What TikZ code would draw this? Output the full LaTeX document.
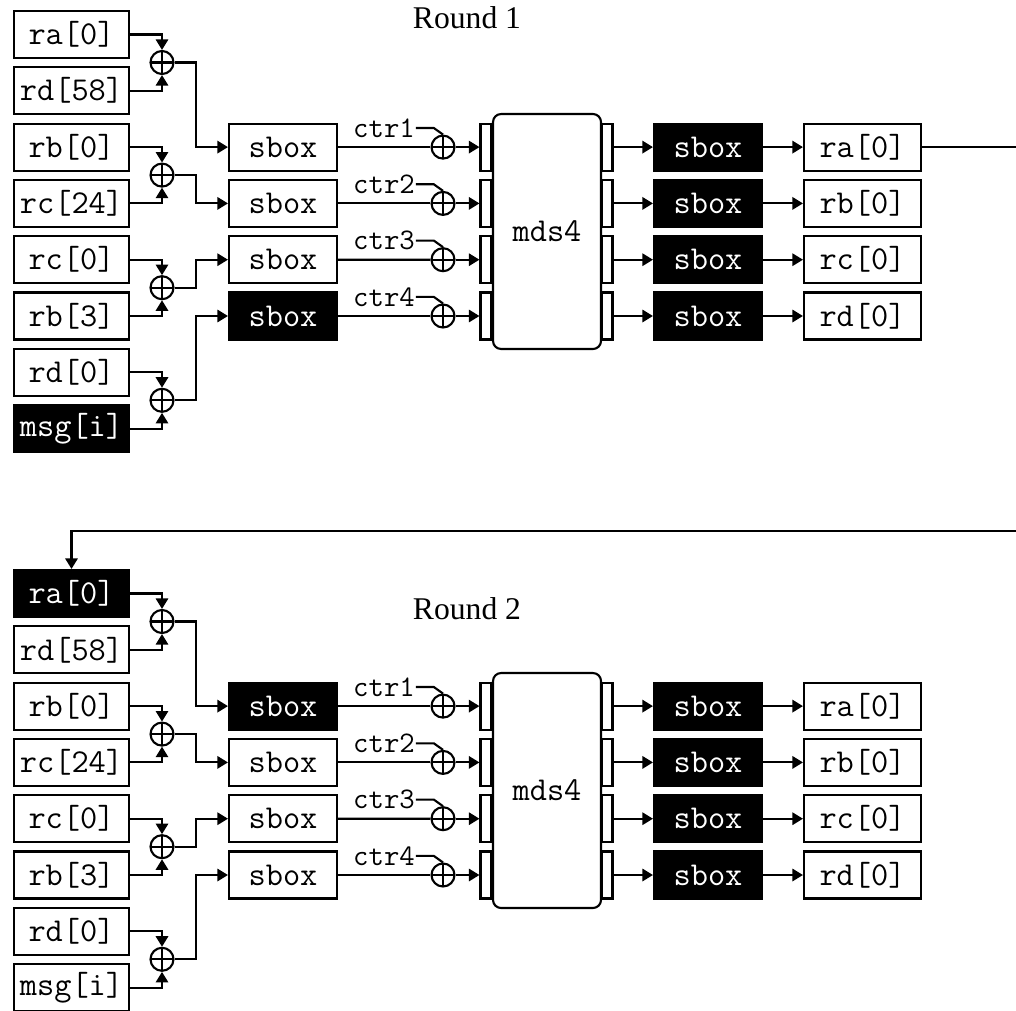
\documentclass[tikz,border=0pt]{standalone}
\usepackage{fontspec}
\setmainfont{Liberation Serif}
\usetikzlibrary{arrows.meta,calc}
\tikzset{
  every picture/.style={line width=1.2pt},
  sreg/.style={draw, inner sep=0pt, minimum width=2.30cm, minimum height=0.94cm,
               font=\ttfamily\fontsize{19}{21}\selectfont},
  ssbox/.style={sreg, minimum width=2.16cm},
  sxor/.style={circle, draw, fill=white, inner sep=0pt, minimum size=0.46cm,
               path picture={\draw (path picture bounding box.north) -- (path picture bounding box.south)
                                   (path picture bounding box.west) -- (path picture bounding box.east);}},
  sside/.style={draw, inner sep=0pt, minimum width=0.22cm, minimum height=0.94cm},
  smds/.style={draw, fill=white, rounded corners=0.16cm, inner sep=0pt,
               minimum width=2.16cm, minimum height=4.70cm,
               font=\ttfamily\fontsize{19}{21}\selectfont},
  sctr/.style={inner sep=0pt, font=\ttfamily\fontsize{17}{19}\selectfont},
  stitle/.style={font=\fontsize{18}{20}\selectfont},
  sarr/.style={-{Triangle[length=6pt,width=7pt]}},
}
\begin{document}
\begin{tikzpicture}[x=0.02cm, y=-0.02cm]
  \useasboundingbox (0,0) rectangle (1016,1010);
  \foreach \r/\dy/\ty/\cA/\tA/\cB/\tB in {1/0/18/white/black/black/white,
                                         2/559/50/black/white/white/black} {
  \begin{scope}[shift={(0,\dy)}]
    \node[stitle] (t\r) at (467,\ty) {Round \r};
    % input registers
    \node[sreg, fill=\cA, text=\tA] (r\r-in0) at (71.5,34.5) {ra[0]};
    \foreach \k/\t in {1/rd[58], 2/rb[0], 3/rc[24], 4/rc[0], 5/rb[3], 6/rd[0]}
      \node[sreg] (r\r-in\k) at (71.5,{34.5+56.3*\k}) {\t};
    \node[sreg, fill=\cB, text=\tB] (r\r-in7) at (71.5,{34.5+56.3*7}) {msg[i]};
    % first sbox column
    \node[ssbox, fill=\cA, text=\tA] (s\r-0) at (283,147.1) {sbox};
    \node[ssbox] (s\r-1) at (283,203.4) {sbox};
    \node[ssbox] (s\r-2) at (283,259.7) {sbox};
    \node[ssbox, fill=\cB, text=\tB] (s\r-3) at (283,316.0) {sbox};
    \foreach \j/\a/\b in {0/0/1, 1/2/3, 2/4/5, 3/6/7} {
      \node[sxor] (x\r-\j) at (162,{62.5+112.6*\j}) {};
      \draw[sarr] (r\r-in\a.east) -| (x\r-\j.north);
      \draw[sarr] (r\r-in\b.east) -| (x\r-\j.south);
      \draw[sarr] (x\r-\j.east) -- ++(21,0) |- (s\r-\j.west);
    }
    % counters, mds4, second sbox column, outputs
    \foreach \j/\n/\o in {0/1/ra[0], 1/2/rb[0], 2/3/rc[0], 3/4/rd[0]} {
      \node[sxor] (c\r-\j) at (443,{147.1+56.3*\j}) {};
      \node[sctr] (l\r-\j) at (384,{128+56.3*\j}) {ctr\n};
      \draw (l\r-\j.east) -- ++(18,0) -- (c\r-\j.north);
      \draw (s\r-\j.east) -- (c\r-\j.west);
      \node[sside] (mi\r-\j) at (486,{147.1+56.3*\j}) {};
      \node[sside] (mo\r-\j) at (607,{147.1+56.3*\j}) {};
      \draw[sarr] (c\r-\j.east) -- (mi\r-\j.west);
      \node[ssbox, fill=black, text=white] (u\r-\j) at (708,{147.1+56.3*\j}) {sbox};
      \node[sreg, minimum width=2.34cm] (o\r-\j) at (862.5,{147.1+56.3*\j}) {\o};
      \draw[sarr] (mo\r-\j.east) -- (u\r-\j.west);
      \draw[sarr] (u\r-\j.east) -- (o\r-\j.west);
    }
    \node[smds] (m\r) at (547,231.5) {mds4};
  \end{scope}
  }
  % feedback from round 1 to round 2
  \coordinate (fb) at (1060,531);
  \draw[sarr] (o1-0.east) -| (fb) -| (r2-in0.north);
\end{tikzpicture}
\end{document}
